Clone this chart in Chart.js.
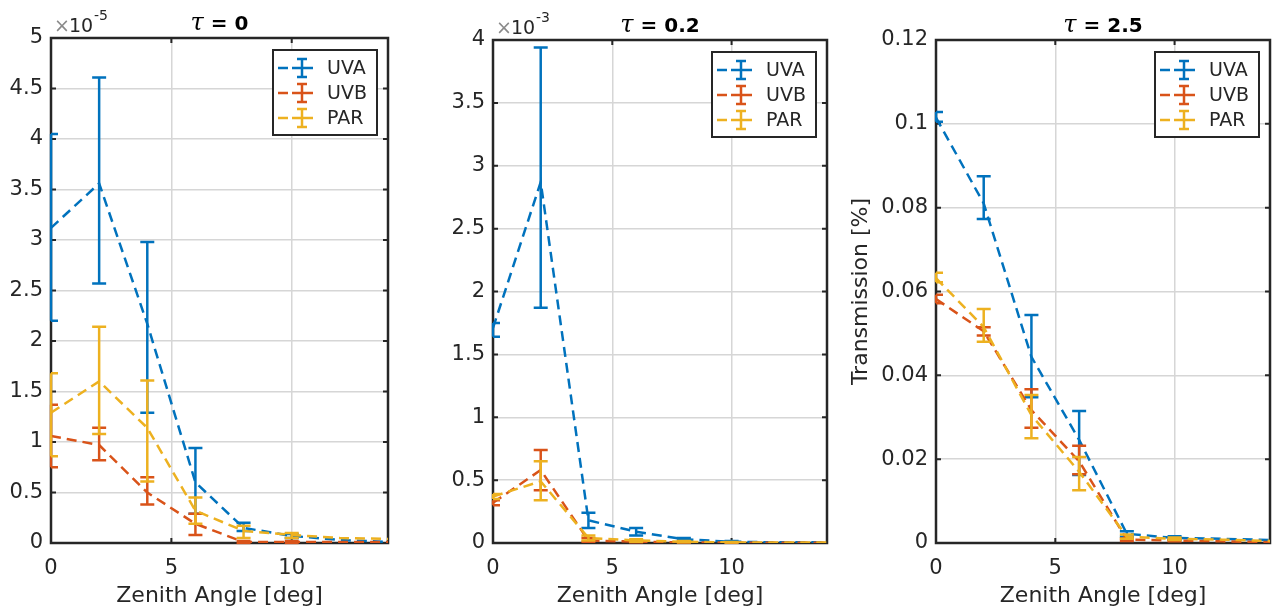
<!DOCTYPE html>
<html>
<head>
<meta charset="utf-8">
<title>Transmission vs zenith angle</title>
<script src="https://cdn.jsdelivr.net/npm/chart.js@4.4.0/dist/chart.umd.min.js"></script>
<style>
  body { margin: 0; background: #fff; }
  .panel { position: absolute; top: 0; }
</style>
</head>
<body>
<div class="panel" style="left:0px"><canvas id="c0" width="400" height="616"></canvas></div>
<div class="panel" style="left:420px"><canvas id="c1" width="420" height="616"></canvas></div>
<div class="panel" style="left:840px"><canvas id="c2" width="435" height="616"></canvas></div>
<script>
const angles = [0, 2, 4, 6, 8, 10, 12, 14];
const seriesNames = ["UVA", "UVB", "PAR"];
const colors = ["#0072BD", "#D95319", "#EDB120"];
const xTicks = [0, 5, 10];

// tau = 0 (axis units of 1e-5)
const uva0 = [3.12, 3.56, 2.17, 0.60, 0.15, 0.07, 0.03, 0.01];
const uva0Lo = [2.20, 2.57, 1.29, 0.29, 0.12, 0.05, null, null];
const uva0Hi = [4.05, 4.61, 2.98, 0.94, 0.20, 0.09, null, null];
const uvb0 = [1.06, 0.97, 0.50, 0.19, 0.01, 0.01, 0.01, 0.01];
const uvb0Lo = [0.75, 0.82, 0.38, 0.08, 0.00, 0.00, null, null];
const uvb0Hi = [1.37, 1.14, 0.65, 0.29, 0.02, 0.02, null, null];
const par0 = [1.29, 1.60, 1.14, 0.32, 0.12, 0.08, 0.05, 0.04];
const par0Lo = [0.86, 1.08, 0.61, 0.19, 0.05, 0.05, null, null];
const par0Hi = [1.68, 2.14, 1.61, 0.45, 0.17, 0.10, null, null];
const yTicks0 = [0, 0.5, 1, 1.5, 2, 2.5, 3, 3.5, 4, 4.5, 5];

// tau = 0.2 (axis units of 1e-3)
const uva1 = [1.71, 2.87, 0.18, 0.09, 0.03, 0.01, 0.005, 0.005];
const uva1Lo = [1.64, 1.87, 0.12, 0.06, 0.02, 0.005, null, null];
const uva1Hi = [1.75, 3.94, 0.24, 0.12, 0.04, 0.015, null, null];
const uvb1 = [0.32, 0.58, 0.02, 0.01, 0.005, 0.003, 0.002, 0.002];
const uvb1Lo = [0.30, 0.42, 0.01, 0.005, 0.003, 0.002, null, null];
const uvb1Hi = [0.34, 0.74, 0.04, 0.02, 0.008, 0.005, null, null];
const par1 = [0.37, 0.49, 0.04, 0.02, 0.01, 0.005, 0.004, 0.003];
const par1Lo = [0.35, 0.34, 0.02, 0.01, 0.005, 0.003, null, null];
const par1Hi = [0.39, 0.65, 0.06, 0.03, 0.015, 0.008, null, null];
const yTicks1 = [0, 0.5, 1, 1.5, 2, 2.5, 3, 3.5, 4];

// tau = 2.5
const uva2 = [0.1015, 0.081, 0.0444, 0.0246, 0.0022, 0.0012, 0.001, 0.0007];
const uva2Lo = [0.1005, 0.0773, 0.0348, 0.0162, 0.0015, 0.0008, null, null];
const uva2Hi = [0.1028, 0.0875, 0.0544, 0.0315, 0.0028, 0.0016, null, null];
const uvb2 = [0.0582, 0.0505, 0.0317, 0.0195, 0.0008, 0.0006, 0.0004, 0.0002];
const uvb2Lo = [0.0572, 0.0495, 0.0275, 0.0164, 0.0005, 0.0004, null, null];
const uvb2Hi = [0.0592, 0.0515, 0.0367, 0.0232, 0.0011, 0.0008, null, null];
const par2 = [0.0632, 0.0515, 0.0305, 0.0170, 0.0015, 0.0010, 0.0008, 0.0005];
const par2Lo = [0.0622, 0.0480, 0.0250, 0.0126, 0.0010, 0.0007, null, null];
const par2Hi = [0.0645, 0.0558, 0.0353, 0.0205, 0.0020, 0.0013, null, null];
const yTicks2 = [0, 0.02, 0.04, 0.06, 0.08, 0.1, 0.12];

const tauLabels = ["0", "0.2", "2.5"];
const exponents = ["-5", "-3", null];

const ink = "#262626";
const sans = "'DejaVu Sans', 'Liberation Sans', Arial, sans-serif";

// boxed axes under the data, errorbars per series, legend/title/exponent on top
const matlabAxes = {
  id: "matlabAxes",
  beforeDatasetsDraw(chart) {
    const ctx = chart.ctx;
    const a = chart.chartArea;
    const xs = chart.scales.x, ys = chart.scales.y;
    ctx.save();
    ctx.setLineDash([]);
    ctx.strokeStyle = ink;

    // inward ticks on all four sides
    ctx.lineWidth = 2;
    ctx.beginPath();
    ys.ticks.forEach(t => {
      const y = ys.getPixelForValue(t.value);
      ctx.moveTo(a.left, y); ctx.lineTo(a.left + 5, y);
      ctx.moveTo(a.right, y); ctx.lineTo(a.right - 5, y);
    });
    xs.ticks.forEach(t => {
      const x = xs.getPixelForValue(t.value);
      ctx.moveTo(x, a.bottom); ctx.lineTo(x, a.bottom - 5);
      ctx.moveTo(x, a.top); ctx.lineTo(x, a.top + 5);
    });
    ctx.stroke();

    ctx.lineWidth = 2.5;
    ctx.strokeRect(a.left, a.top, a.right - a.left, a.bottom - a.top);
    ctx.restore();
  },
  afterDatasetDraw(chart, args) {
    const ds = chart.data.datasets[args.index];
    const ys = chart.scales.y;
    const a = chart.chartArea;
    const ctx = chart.ctx;
    ctx.save();
    ctx.beginPath();
    ctx.rect(a.left - 1.5, a.top - 1.5, a.right - a.left + 3, a.bottom - a.top + 3);
    ctx.clip();
    ctx.strokeStyle = ds.borderColor;
    ctx.lineWidth = 2.5;
    ctx.setLineDash([]);
    args.meta.data.forEach((pt, i) => {
      const lo = ds.errLo[i], hi = ds.errHi[i];
      if (lo == null || hi == null) return;
      const y1 = ys.getPixelForValue(lo), y2 = ys.getPixelForValue(hi);
      const x0 = Math.max(pt.x - 7, a.left), x1 = Math.min(pt.x + 7, a.right);
      ctx.beginPath();
      ctx.moveTo(pt.x, y1); ctx.lineTo(pt.x, y2);
      ctx.moveTo(x0, y1); ctx.lineTo(x1, y1);
      ctx.moveTo(x0, y2); ctx.lineTo(x1, y2);
      ctx.stroke();
    });
    ctx.restore();
  },
  afterDraw(chart, args, opts) {
    const ctx = chart.ctx;
    const a = chart.chartArea;
    ctx.save();
    ctx.setLineDash([]);

    // legend
    const lw = 104, lh = 85;
    const lx = a.right - 11 - lw, ly = a.top + 12;
    ctx.fillStyle = "#fff";
    ctx.fillRect(lx, ly, lw, lh);
    ctx.strokeStyle = ink;
    ctx.lineWidth = 2;
    ctx.strokeRect(lx, ly, lw, lh);
    ctx.font = "19px " + sans;
    ctx.textBaseline = "middle";
    ctx.textAlign = "left";
    chart.data.datasets.forEach((ds, i) => {
      const cy = ly + 18 + i * 25;
      ctx.strokeStyle = ds.borderColor;
      ctx.lineWidth = 2.5;
      ctx.beginPath();
      ctx.moveTo(lx + 5, cy); ctx.lineTo(lx + 15, cy);
      ctx.moveTo(lx + 19, cy); ctx.lineTo(lx + 40, cy);
      ctx.moveTo(lx + 29, cy - 9); ctx.lineTo(lx + 29, cy + 9);
      ctx.moveTo(lx + 24, cy - 9); ctx.lineTo(lx + 34, cy - 9);
      ctx.moveTo(lx + 24, cy + 9); ctx.lineTo(lx + 34, cy + 9);
      ctx.stroke();
      ctx.fillStyle = ink;
      ctx.fillText(ds.label, lx + 54, cy + 1);
    });

    // title: italic tau, bold value
    const cx = (a.left + a.right) / 2;
    const tauFont = "italic 24px 'DejaVu Serif', 'Liberation Serif', serif";
    const restFont = "bold 20px " + sans;
    const rest = " = " + opts.tau;
    ctx.font = tauFont;
    const w1 = ctx.measureText("\u03C4").width;
    ctx.font = restFont;
    const w2 = ctx.measureText(rest).width;
    const tx = cx - (w1 + w2) / 2;
    ctx.textBaseline = "alphabetic";
    ctx.fillStyle = "#000";
    ctx.font = tauFont;
    ctx.fillText("\u03C4", tx, a.top - 8);
    ctx.font = restFont;
    ctx.fillText(rest, tx + w1, a.top - 8);

    // axis multiplier
    if (opts.exponent) {
      ctx.fillStyle = "#8a8a8a";
      ctx.font = "19px " + sans;
      ctx.fillText("\u00D7", a.left + 3, a.top - 6);
      ctx.fillStyle = ink;
      ctx.fillText("10", a.left + 18, a.top - 6);
      ctx.font = "14px " + sans;
      ctx.fillText(opts.exponent, a.left + 43, a.top - 18);
    }
    ctx.restore();
  }
};

function fmt(v) {
  return String(+v.toFixed(3));
}

function makePanel(id, p) {
  const datasets = p.series.map((s, i) => ({
    label: seriesNames[i],
    data: s.values,
    errLo: s.lo,
    errHi: s.hi,
    borderColor: colors[i],
    backgroundColor: colors[i],
    borderWidth: 2.5,
    borderDash: [10, 6],
    pointRadius: 0,
    tension: 0,
    order: 3 - i
  }));

  new Chart(document.getElementById(id), {
    type: "line",
    data: { labels: angles, datasets: datasets },
    options: {
      responsive: false,
      animation: false,
      events: [],
      layout: { padding: { top: p.top, right: p.right, left: 0, bottom: 0 } },
      plugins: {
        legend: { display: false },
        tooltip: { enabled: false },
        matlabAxes: { tau: p.tau, exponent: p.exponent }
      },
      scales: {
        x: {
          type: "linear",
          min: 0,
          max: 14,
          afterBuildTicks: s => { s.ticks = xTicks.map(v => ({ value: v })); },
          afterFit: s => { s.height = 73; },
          grid: { color: "#d6d6d6", lineWidth: 1.5, drawTicks: false },
          border: { display: false },
          ticks: { color: ink, font: { family: sans, size: 21 }, padding: 13, maxRotation: 0, callback: fmt },
          title: {
            display: true,
            text: "Zenith Angle [deg]",
            color: ink,
            font: { family: sans, size: 22 },
            padding: { top: 0, bottom: 7 }
          }
        },
        y: {
          min: p.yTicks[0],
          max: p.yTicks[p.yTicks.length - 1],
          afterBuildTicks: s => { s.ticks = p.yTicks.map(v => ({ value: v })); },
          afterFit: s => { s.width = p.yWidth; },
          grid: { color: "#d6d6d6", lineWidth: 1.5, drawTicks: false },
          border: { display: false },
          ticks: { color: ink, font: { family: sans, size: 21 }, padding: 8, callback: fmt },
          title: {
            display: !!p.yTitle,
            text: p.yTitle || "",
            color: ink,
            font: { family: sans, size: 22 },
            padding: { top: 8, bottom: 0 }
          }
        }
      }
    },
    plugins: [matlabAxes]
  });
}

makePanel("c0", {
  series: [
    { values: uva0, lo: uva0Lo, hi: uva0Hi },
    { values: uvb0, lo: uvb0Lo, hi: uvb0Hi },
    { values: par0, lo: par0Lo, hi: par0Hi }
  ],
  yTicks: yTicks0, tau: tauLabels[0], exponent: exponents[0],
  top: 38, right: 12, yWidth: 51
});

makePanel("c1", {
  series: [
    { values: uva1, lo: uva1Lo, hi: uva1Hi },
    { values: uvb1, lo: uvb1Lo, hi: uvb1Hi },
    { values: par1, lo: par1Lo, hi: par1Hi }
  ],
  yTicks: yTicks1, tau: tauLabels[1], exponent: exponents[1],
  top: 40, right: 13, yWidth: 73
});

makePanel("c2", {
  series: [
    { values: uva2, lo: uva2Lo, hi: uva2Hi },
    { values: uvb2, lo: uvb2Lo, hi: uvb2Hi },
    { values: par2, lo: par2Lo, hi: par2Hi }
  ],
  yTicks: yTicks2, tau: tauLabels[2], exponent: exponents[2],
  top: 40, right: 5, yWidth: 96, yTitle: "Transmission [%]"
});
</script>
</body>
</html>
